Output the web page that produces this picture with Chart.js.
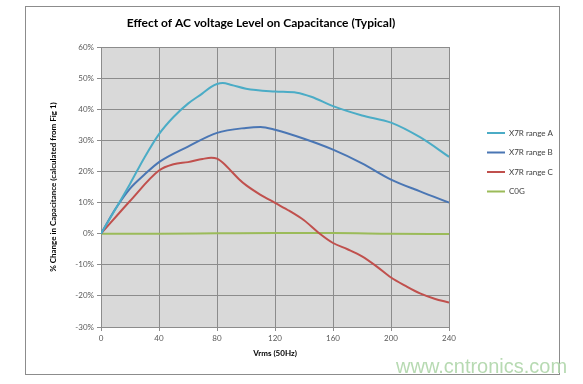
<!DOCTYPE html>
<html lang="en">
  <head>
    <meta charset="UTF-8" />
    <title>Effect of AC voltage Level on Capacitance (Typical)</title>
    <script src="https://cdn.jsdelivr.net/npm/chart.js"></script>
    <style>
      body {
        margin: 0;
        background: #fff;
      }
      #frame {
        position: absolute;
        left: 25px;
        top: 6px;
        width: 533px;
        height: 367px;
        border: 1px solid #8c8c8c;
      }
      #mark {
        position: absolute;
        left: 396px;
        top: 356px;
        font: 20px "Liberation Sans", Arial, sans-serif;
        line-height: 20px;
        color: #b7dab2;
      }
    </style>
  </head>
  <body>
    <div id="frame"><canvas id="chart"></canvas></div>
    <div id="mark">www.cntronics.com</div>

    <script>
      // Datos (Vrms -> % de cambio)
      const voltsA = [0, 20, 30, 40, 50, 60, 70, 76, 80, 84, 90, 100, 120, 135, 145, 160, 180, 200, 220, 240];
      const rangeA = [0, 16, 24.5, 32, 37.5, 41.8, 45.1, 47.2, 48.1, 48.4, 47.8, 46.6, 45.7, 45.3, 44, 41, 38, 35.7, 31, 24.7];

      const voltsB = [0, 10, 20, 30, 40, 60, 80, 100, 110, 120, 140, 160, 180, 200, 220, 240];
      const rangeB = [0, 8, 14.5, 19, 23, 28, 32.4, 34, 34.3, 33.4, 30.5, 27, 22.6, 17.4, 13.6, 10];

      const voltsC = [0, 20, 40, 50, 60, 70, 76, 80, 85, 90, 95, 100, 110, 120, 130, 140, 150, 160, 170, 180, 190, 200, 210, 220, 230, 240];
      const rangeC = [0, 10.5, 20.3, 22.3, 23, 24, 24.4, 24.1, 22.4, 20, 17.6, 15.6, 12.5, 9.9, 7.3, 4.3, 0.3, -3, -5, -7.3, -10.5, -14.1, -16.8, -19.2, -20.9, -22.1];

      const voltsCOG = [0, 40, 80, 120, 160, 200, 240];
      const valuesCOG = [0, 0, 0.1, 0.2, 0.2, 0, -0.1];

      const seriesNames = ["X7R range A", "X7R range B", "X7R range C", "C0G"];
      const seriesColors = ["#4bacc6", "#4a76b4", "#c0504d", "#9bbb59"];

      const FONT = "Lato, 'Open Sans', sans-serif";

      function points(xs, ys) {
        return xs.map((x, i) => ({ x: x, y: ys[i] }));
      }

      // fondo gris del área de trazado
      const plotBackground = {
        id: "plotBackground",
        beforeDraw(chart) {
          const a = chart.chartArea;
          chart.ctx.save();
          chart.ctx.fillStyle = "#d9d9d9";
          chart.ctx.fillRect(a.left, a.top, a.right - a.left, a.bottom - a.top);
          chart.ctx.restore();
        },
      };

      // mover título y leyenda como en el original
      const placeBoxes = {
        id: "placeBoxes",
        afterLayout(chart) {
          const t = chart.titleBlock;
          if (t) {
            const w = t.right - t.left;
            t.left = 235 - w / 2;
            t.right = 235 + w / 2;
          }
          const lg = chart.legend;
          if (lg) {
            const dx = 449.5 - lg.left;
            lg.left += dx;
            lg.right += dx;
            const h = lg.bottom - lg.top;
            lg.top = 110.5;
            lg.bottom = 110.5 + h;
          }
        },
      };

      const datasets = [
        points(voltsA, rangeA),
        points(voltsB, rangeB),
        points(voltsC, rangeC),
        points(voltsCOG, valuesCOG),
      ].map((data, i) => ({
        label: seriesNames[i],
        data: data,
        borderColor: seriesColors[i],
        backgroundColor: seriesColors[i],
        borderWidth: 2,
        pointRadius: 0,
        cubicInterpolationMode: "monotone",
      }));

      new Chart(document.getElementById("chart"), {
        type: "line",
        data: { datasets: datasets },
        plugins: [plotBackground, placeBoxes],
        options: {
          responsive: true,
          maintainAspectRatio: false,
          animation: false,
          layout: { padding: { left: 0, top: 0, right: 22.5, bottom: 0 } },
          scales: {
            x: {
              type: "linear",
              min: 0,
              max: 240,
              ticks: { stepSize: 40, padding: 3, color: "#595959", font: { family: FONT, size: 8 } },
              grid: { color: "#8c8c8c", tickLength: 4 },
              border: { color: "#8c8c8c" },
              title: {
                display: true,
                text: "Vrms (50Hz)",
                color: "#000",
                font: { family: FONT, size: 8, weight: "bold" },
                padding: { top: 0, bottom: 16.2 },
              },
              afterFit(s) {
                s.height = 47;
              },
            },
            y: {
              min: -30,
              max: 60,
              ticks: {
                stepSize: 10,
                padding: 3,
                color: "#595959",
                font: { family: FONT, size: 8 },
                callback: (v) => v + "%",
              },
              grid: { color: "#8c8c8c", tickLength: 4 },
              border: { color: "#8c8c8c" },
              title: {
                display: true,
                text: "% Change in Capacitance (calculated from Fig 1)",
                color: "#000",
                font: { family: FONT, size: 8, weight: "bold" },
                padding: { top: 22.2, bottom: 0 },
              },
              afterFit(s) {
                s.width = 75;
              },
            },
          },
          plugins: {
            title: {
              display: true,
              text: "Effect of AC voltage Level on Capacitance (Typical)",
              color: "#000",
              font: { family: FONT, size: 12, weight: "bold" },
              padding: { top: 8.5, bottom: 17.1 },
            },
            legend: {
              position: "right",
              align: "start",
              labels: {
                boxWidth: 18,
                boxHeight: 0,
                padding: 11.5,
                color: "#404040",
                font: { family: FONT, size: 8 },
              },
            },
            tooltip: { enabled: false },
          },
        },
      });
    </script>
  </body>
</html>
